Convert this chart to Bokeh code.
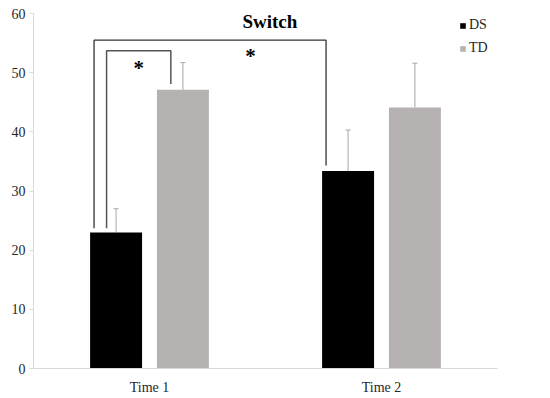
from bokeh.plotting import figure
from bokeh.models import (Range1d, FixedTicker, Whisker, TeeHead, ColumnDataSource,
                          Legend, LegendItem, Label)
from bokeh.embed import file_html
from bokeh.resources import INLINE
from bokeh.core.properties import value

# ---- data ----
categories = ["Time 1", "Time 2"]
ds_values = [23.0, 33.4]
td_values = [47.1, 44.1]
ds_errors = [4.0, 6.9]
td_errors = [4.6, 7.5]
y_ticks = [0, 10, 20, 30, 40, 50, 60]
title_text = "Switch"
sig_labels = ["*", "*"]

# ---- layout helpers ----
centers = [i + 0.5 for i in range(len(categories))]
off = 0.144
bw = 0.224
ds_x = [c - off for c in centers]
td_x = [c + off for c in centers]

FONT = "Liberation Serif"
TXT = "#262626"

p = figure(width=550, height=398, output_backend="svg", toolbar_location=None,
           x_range=Range1d(0, 2), y_range=Range1d(0, 60),
           min_border_left=33, min_border_right=53, min_border_top=13, min_border_bottom=30)
p.outline_line_color = None
p.grid.visible = False
p.background_fill_color = "white"
p.border_fill_color = "white"

r_ds = p.vbar(x=ds_x, top=ds_values, width=bw, color="black", line_color=None)
r_td = p.vbar(x=td_x, top=td_values, width=bw, color="#b6b2b1", line_color=None)

# error bars (upper only)
for xs, tops, errs in ((ds_x, ds_values, ds_errors), (td_x, td_values, td_errors)):
    src = ColumnDataSource(dict(x=xs, lower=tops, upper=[t + e for t, e in zip(tops, errs)]))
    w = Whisker(source=src, base="x", lower="lower", upper="upper", dimension="height",
                line_color="#a6a6a6", line_width=1,
                upper_head=TeeHead(size=5, line_color="#a6a6a6", line_width=1), lower_head=None)
    p.add_layout(w)

# significance brackets
gap = 0.7
outer_top = 55.5
inner_top = 53.7
outer_xs = [ds_x[0] - 0.095, ds_x[0] - 0.095, ds_x[1] - 0.095, ds_x[1] - 0.095]
outer_ys = [ds_values[0] + gap, outer_top, outer_top, ds_values[1] + 0.9]
inner_xs = [ds_x[0] - 0.041, ds_x[0] - 0.041, td_x[0] - 0.052, td_x[0] - 0.052]
inner_ys = [ds_values[0] + gap, inner_top, inner_top, td_values[0] + 1.0]
p.line(outer_xs, outer_ys, line_color="#333333", line_width=1.3)
p.line(inner_xs, inner_ys, line_color="#555555", line_width=1.5)

p.text(x=[(inner_xs[0] + inner_xs[2]) / 2, centers[0] + 0.435], y=[50.8, 52.8], text=sig_labels,
       text_font=value(FONT), text_font_style="bold", text_font_size="21px",
       text_align="center", text_baseline="alphabetic", text_color="black")

p.add_layout(Label(x=1.019, y=58.7, text=title_text, text_font=FONT, text_font_style="bold",
                   text_font_size="19px", text_align="center", text_baseline="alphabetic",
                   text_color="black"))

# axes
p.yaxis.ticker = FixedTicker(ticks=y_ticks)
p.yaxis.axis_line_color = "#d9d9d9"
p.yaxis.major_tick_line_color = "#d9d9d9"
p.yaxis.major_tick_out = 4
p.yaxis.major_tick_in = 0
p.yaxis.minor_tick_line_color = None
p.yaxis.major_label_standoff = 4
p.yaxis.major_label_text_font = FONT
p.yaxis.major_label_text_font_size = "14px"
p.yaxis.major_label_text_color = TXT

p.xaxis.ticker = FixedTicker(ticks=centers)
p.xaxis.major_label_overrides = {c: lab for c, lab in zip(centers, categories)}
p.xaxis.axis_line_color = "#d9d9d9"
p.xaxis.major_tick_line_color = None
p.xaxis.minor_tick_line_color = None
p.xaxis.major_label_standoff = 5
p.xaxis.major_label_text_font = FONT
p.xaxis.major_label_text_font_size = "14px"
p.xaxis.major_label_text_color = TXT

legend = Legend(items=[LegendItem(label="DS", renderers=[r_ds]),
                       LegendItem(label="TD", renderers=[r_td])],
                location=(426, 310), orientation="vertical",
                glyph_width=7, glyph_height=7, label_height=20, spacing=3,
                padding=0, margin=0, border_line_color=None, background_fill_alpha=0,
                label_standoff=3, label_text_font=FONT, label_text_font_size="14px",
                label_text_color=TXT)
p.add_layout(legend)

open("out.html", "w").write(file_html(p, INLINE))
